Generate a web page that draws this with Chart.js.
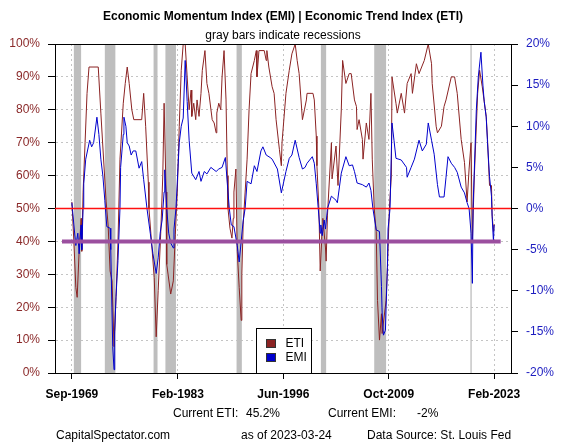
<!DOCTYPE html>
<html lang="en">
<head>
<meta charset="UTF-8">
<title>Economic Momentum Index / Economic Trend Index</title>
<script src="https://cdn.jsdelivr.net/npm/chart.js@4.4.0/dist/chart.umd.min.js"></script>
<style>
  body { margin: 0; background: #fff; }
</style>
</head>
<body>
<canvas id="emiChart" width="583" height="444"></canvas>
<script>
// x values are months counted from Sep-1969 (= 0)
const tickMonths = [0, 161, 321, 481, 641];
const tickLabels = ['Sep-1969', 'Feb-1983', 'Jun-1996', 'Oct-2009', 'Feb-2023'];

// Economic Trend Index, % (left axis)
const etiMonths = [0, 3, 6, 8, 11, 14, 15, 17, 20, 23, 26, 40, 44, 49, 52, 55, 58, 61, 64, 67,
  70, 73, 78, 81, 84, 87, 91, 94, 106, 109, 112, 116, 117, 125, 128, 131, 135, 138, 140, 143,
  144, 150, 154, 157, 160, 163, 166, 169, 172, 175, 178, 181, 182, 185, 188, 190, 193, 196, 198, 202,
  205, 208, 213, 216, 219, 220, 223, 226, 228, 231, 234, 236, 237, 240, 243, 245, 246, 249, 251, 254,
  257, 258, 260, 263, 266, 269, 272, 277, 280, 281, 284, 292, 295, 296, 299, 304, 307, 310, 315, 318,
  319, 325, 330, 334, 339, 342, 345, 350, 353, 356, 357, 366, 368, 371, 372, 375, 377, 380, 381, 385,
  386, 388, 394, 395, 401, 404, 409, 411, 416, 421, 424, 429, 432, 433, 436, 441, 442, 447, 451, 454,
  456, 459, 462, 464, 467, 470, 471, 477, 479, 482, 485, 486, 492, 494, 500, 505, 509, 515, 517, 523,
  527, 535, 541, 546, 547, 553, 555, 561, 565, 568, 576, 581, 585, 591, 596, 600, 603, 606, 608, 611,
  616, 619, 623, 629, 631, 634, 637, 638, 640, 641];
const etiValues = [52, 40, 26, 23, 37, 47, 37, 55, 70, 85, 93, 93, 79, 62, 52, 45, 31, 28, 8, 23,
  40, 65, 82, 88, 93, 88, 80, 77, 77, 85, 75, 58, 50, 29, 11, 25, 43, 60, 82, 55,
  33, 24, 28, 42, 55, 75, 92, 100, 100, 90, 80, 86, 78, 82, 77, 83, 78, 85, 92, 98,
  88, 85, 77, 76, 73, 79, 82, 80, 90, 98, 83, 60, 50, 44, 41, 47, 55, 62, 37, 26,
  16, 30, 45, 55, 65, 80, 91, 95, 98, 90, 98, 98, 95, 98, 93, 87, 85, 77, 68, 63,
  70, 85, 92, 97, 100, 95, 91, 77, 80, 83, 85, 85, 83, 72, 63, 50, 31, 44, 47, 38,
  34, 48, 70, 59, 69, 57, 80, 95, 88, 91, 91, 83, 81, 74, 77, 71, 65, 76, 71, 85,
  65, 50, 43, 22, 10, 18, 12, 22, 32, 50, 60, 90, 82, 79, 85, 79, 88, 91, 85, 94,
  91, 95, 100, 94, 88, 75, 73, 75, 81, 83, 90, 90, 85, 71, 64, 52, 62, 70, 40, 60,
  85, 92, 87, 78, 71, 57, 57, 48, 43, 45.2];

// Economic Momentum Index, % (right axis)
const emiMonths = [0, 3, 6, 9, 11, 14, 15, 17, 18, 21, 27, 30, 33, 38, 41, 44, 47, 50, 53, 58,
  59, 62, 64, 65, 67, 70, 73, 74, 78, 79, 82, 84, 87, 90, 93, 97, 102, 106, 109, 114,
  119, 123, 128, 131, 134, 137, 140, 141, 144, 147, 150, 154, 155, 158, 163, 166, 169, 172, 175, 178,
  182, 188, 193, 196, 201, 205, 211, 219, 223, 228, 233, 236, 239, 242, 246, 251, 254, 257, 260, 263,
  266, 272, 277, 281, 287, 290, 295, 301, 304, 312, 318, 325, 330, 334, 339, 345, 350, 354, 357, 365,
  368, 371, 374, 377, 378, 380, 383, 385, 388, 394, 401, 403, 409, 416, 421, 426, 429, 433, 441, 447,
  451, 454, 457, 462, 467, 470, 471, 473, 476, 477, 479, 480, 483, 486, 489, 492, 500, 508, 509, 515,
  520, 527, 532, 538, 541, 546, 550, 555, 558, 565, 568, 571, 576, 581, 585, 591, 596, 600, 603, 606,
  608, 609, 614, 617, 621, 624, 626, 629, 631, 634, 637, 638, 640, 641];
const emiValues = [0.7, -2, -4.5, -3, -5.5, -2, -5, 0, 3, 6, 8.3, 7.5, 8, 11.1, 9, 6, 4, 1, -2.2, -2.4,
  -5, -16.8, -19.6, -15, -10.7, -6.3, 0, 5, 9, 11.1, 10, 8, 7.6, 6.5, 7, 7, 4.9, 5.7, 3.5, 0,
  -3, -5.5, -7.9, -6, -3, -1.4, 2, 4.7, 0, -3, -4.2, -4.8, -2.5, 0, 8, 10, 11, 18, 13, 8.3,
  4.3, 3.5, 4.5, 3.3, 4.5, 4.2, 5, 4.5, 4.8, 5, 6.2, 3, 0, -2, -2.2, -4.5, -6.5, -4, -1.5, 0,
  3.3, 3, 5.2, 4.5, 7, 7.5, 6.5, 6.2, 6, 4.8, 1.9, 4.5, 6.1, 6.5, 8.3, 6.2, 4.8, 5, 5.5, 6.3,
  5.5, 3, 0, -3, -2, -3.3, -1.4, -2.5, 0, 1.5, 1, 0.7, 4.3, 6.3, 5.2, 5.3, 4.5, 3.1, 2.9, 2.6,
  3.1, 2.2, 0, -2.6, -2.8, -9.5, -12.7, -15.4, -14.8, -12, -7.2, -2.5, 0, 10.4, 8.3, 6.1, 5.9, 5, 3.8, 5,
  6, 8.3, 7, 7.8, 10.4, 8.3, 6.6, 2.9, 1.4, 1.4, 3.8, 6.3, 5.5, 5, 4.4, 2.6, 1.9, 0.7, 0, -3,
  -9.1, 0, 12, 16, 19, 15, 13, 11.1, 8, 3.9, 1.5, -1, -4, -2];

// NBER recessions, same month count
const recessionStart = [3, 50, 124, 142, 250, 378, 459, 605];
const recessionEnd = [14, 66, 130, 158, 258, 386, 477, 607];

const zeroLine = 50;            // ETI 50% = EMI 0%
const markerLine = 40;
const markerSpan = [-15, 651];

const etiColor = '#8b2323';
const emiColor = '#0000cd';

Chart.defaults.font.family = '"Liberation Sans", Arial, sans-serif';
Chart.defaults.font.size = 12;
Chart.defaults.color = '#000';

const decorPlugin = {
  id: 'decor',
  beforeDatasetsDraw(chart) {
    const {ctx, chartArea: a, scales: {x}} = chart;
    ctx.save();
    ctx.fillStyle = '#bebebe';
    recessionStart.forEach((s, i) => {
      const x0 = x.getPixelForValue(s);
      const x1 = x.getPixelForValue(recessionEnd[i]);
      ctx.fillRect(x0, a.top, Math.max(x1 - x0, 1), a.bottom - a.top);
    });
    ctx.restore();
  },
  afterDatasetsDraw(chart) {
    const {ctx, chartArea: a, scales: {y}} = chart;
    const yy = y.getPixelForValue(zeroLine);
    ctx.save();
    ctx.strokeStyle = '#ff1010';
    ctx.lineWidth = 1.5;
    ctx.beginPath();
    ctx.moveTo(a.left, yy);
    ctx.lineTo(a.right, yy);
    ctx.stroke();
    ctx.restore();
  },
  afterDraw(chart) {
    const {ctx, chartArea: a} = chart;
    const cx = (a.left + a.right) / 2;
    ctx.save();
    // top of the box
    ctx.strokeStyle = '#000';
    ctx.lineWidth = 1;
    ctx.beginPath();
    ctx.moveTo(a.left, a.top + 0.5);
    ctx.lineTo(a.right + 0.5, a.top + 0.5);
    ctx.stroke();

    // titles
    ctx.fillStyle = '#000';
    ctx.textAlign = 'center';
    ctx.textBaseline = 'middle';
    ctx.font = 'bold 12px "Liberation Sans", Arial, sans-serif';
    ctx.fillText('Economic Momentum Index (EMI) | Economic Trend Index (ETI)', cx, 17);
    ctx.font = '12px "Liberation Sans", Arial, sans-serif';
    ctx.fillText('gray bars indicate recessions', cx, 36);

    // legend
    const lx = Math.round(cx - 27) + 0.5, ly = Math.round(a.bottom - 45) + 0.5;
    ctx.fillStyle = '#fff';
    ctx.fillRect(lx, ly, 55, 45);
    ctx.strokeRect(lx, ly, 55, 45);
    [['ETI', etiColor], ['EMI', emiColor]].forEach(([name, col], i) => {
      const sy = ly + 11 + i * 14;
      ctx.fillStyle = col;
      ctx.fillRect(lx + 10, sy, 9, 8);
      ctx.strokeStyle = '#333';
      ctx.strokeRect(lx + 10, sy, 9, 8);
      ctx.fillStyle = '#000';
      ctx.textAlign = 'left';
      ctx.fillText(name, lx + 29, sy + 4.5);
    });

    // footer
    ctx.textAlign = 'left';
    ctx.fillText('Current ETI:', 173, 414);
    ctx.fillText(etiValues[etiValues.length - 1].toFixed(1) + '%', 246, 414);
    ctx.fillText('Current EMI:', 328, 414);
    ctx.fillText(Math.round(emiValues[emiValues.length - 1]) + '%', 417, 414);
    ctx.fillText('CapitalSpectator.com', 56, 436);
    ctx.fillText('as of 2023-03-24', 241, 436);
    ctx.fillText('Data Source: St. Louis Fed', 367, 436);
    ctx.restore();
  }
};

new Chart(document.getElementById('emiChart'), {
  type: 'line',
  data: {
    datasets: [
      {
        label: 'ETI',
        data: etiMonths.map((m, i) => ({x: m, y: etiValues[i]})),
        yAxisID: 'y',
        borderColor: etiColor,
        borderWidth: 1,
        order: 4
      },
      {
        label: 'EMI',
        data: emiMonths.map((m, i) => ({x: m, y: emiValues[i]})),
        yAxisID: 'y1',
        borderColor: emiColor,
        borderWidth: 1,
        order: 3
      },
      {
        label: 'level',
        data: markerSpan.map(m => ({x: m, y: markerLine})),
        yAxisID: 'y',
        borderColor: '#9b4f9f',
        borderWidth: 4,
        order: 1
      }
    ]
  },
  options: {
    responsive: false,
    animation: false,
    devicePixelRatio: 1,
    layout: {padding: {top: 44, left: 0, right: 0, bottom: 0}},
    elements: {
      point: {radius: 0},
      line: {tension: 0, borderCapStyle: 'butt', fill: false}
    },
    plugins: {
      legend: {display: false},
      tooltip: {enabled: false}
    },
    scales: {
      x: {
        type: 'linear',
        min: -25.64,
        max: 666.64,
        afterBuildTicks: s => { s.ticks = tickMonths.map(v => ({value: v})); },
        afterFit: s => { s.height = 71; },
        ticks: {
          callback: (v, i) => tickLabels[i],
          font: {weight: 'bold'},
          padding: 8,
          maxRotation: 0,
          autoSkip: false
        },
        grid: {color: '#c4c4c4', tickColor: '#000', tickLength: 6, tickBorderDash: []},
        border: {color: '#000', dash: [2, 3]}
      },
      y: {
        position: 'left',
        min: 0,
        max: 100,
        afterFit: s => { s.width = 55; },
        ticks: {stepSize: 10, callback: v => v + '%', color: '#8b2a2a', padding: 8},
        grid: {color: '#c4c4c4', tickColor: '#000', tickLength: 7, tickBorderDash: []},
        border: {color: '#000', dash: [2, 3]}
      },
      y1: {
        position: 'right',
        min: -20,
        max: 20,
        afterFit: s => { s.width = 72; },
        ticks: {stepSize: 5, callback: v => v + '%', color: '#1c1cc0', padding: 8},
        grid: {drawOnChartArea: false, tickColor: '#000', tickLength: 7},
        border: {color: '#000'}
      }
    }
  },
  plugins: [decorPlugin]
});
</script>
</body>
</html>
